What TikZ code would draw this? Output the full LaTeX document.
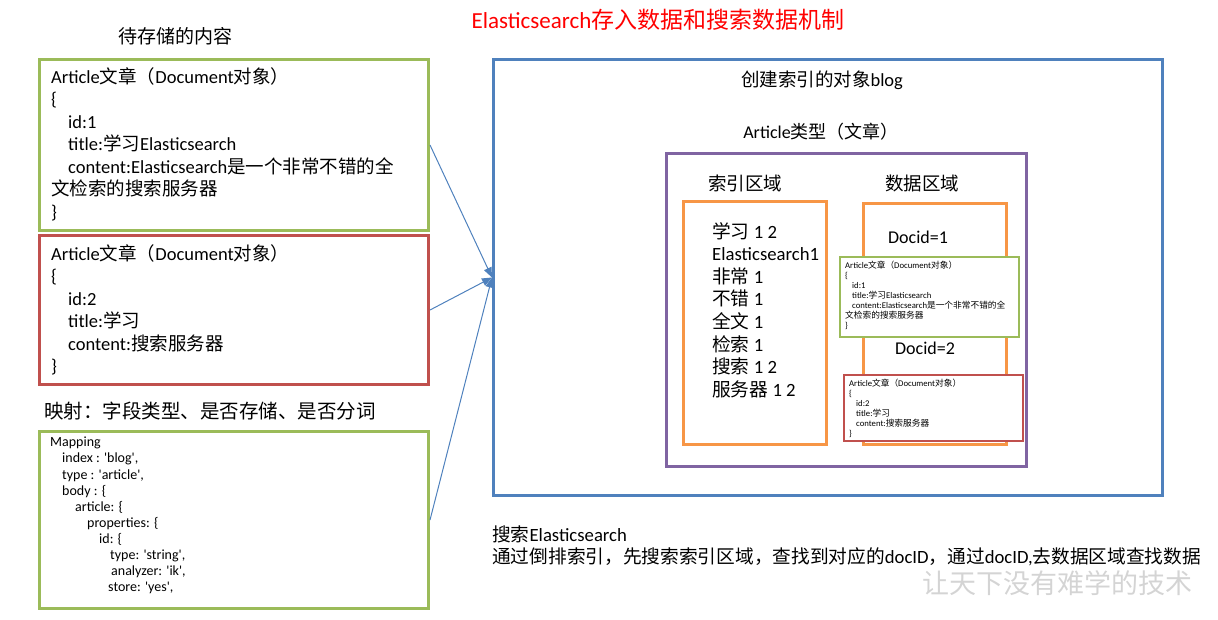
\documentclass[tikz,border=0pt]{standalone}
\usepackage{fontspec}
\setmainfont{Carlito}
\newfontfamily\zhfont{Noto Sans CJK SC}
\usetikzlibrary{arrows.meta}

% Chinese characters switch to the CJK font on their own
\XeTeXinterchartokenstate=1
\newXeTeXintercharclass\zhclass
\newcount\zhchar
\newcommand{\zhrange}[2]{%
	\zhchar=#1\relax
	\loop\XeTeXcharclass\zhchar=\zhclass
	\ifnum\zhchar<#2\advance\zhchar by 1\repeat}
\zhrange{"3000}{"303F}
\zhrange{"4E00}{"9FFF}
\zhrange{"FF00}{"FFEF}
\XeTeXinterchartoks 0 \zhclass = {\zhfont}
\XeTeXinterchartoks 4095 \zhclass = {\zhfont}
\XeTeXinterchartoks \zhclass 0 = {\rmfamily}
\XeTeXinterchartoks \zhclass 4095 = {\rmfamily}

\definecolor{docgreen}{RGB}{155,187,89}
\definecolor{docred}{RGB}{192,80,77}
\definecolor{docblue}{RGB}{79,129,189}
\definecolor{docpurple}{RGB}{128,100,162}
\definecolor{docorange}{RGB}{247,150,70}
\newcommand{\sq}{\textquotesingle}

\begin{document}
\begin{tikzpicture}[x=1pt,y=-1pt,
	docbox/.style={draw=#1, line width=3pt, anchor=north west, inner sep=0pt},
	smallbox/.style={draw=#1, line width=1.5pt, fill=white, anchor=north west, inner sep=0pt},
	doctext/.style={anchor=north west, inner sep=0pt, align=left, font=\fontsize{18.5}{22.5}\selectfont},
	smalltext/.style={anchor=north west, inner sep=0pt, align=left, font=\fontsize{8.7}{10}\selectfont},
	areatext/.style={inner sep=0pt, font=\fontsize{18.5}{22}\selectfont},
	feed/.style={draw=docblue, line width=1pt, -{Triangle[length=10pt,width=8pt]}}
	]
	\useasboundingbox (0,0) rectangle (1218,619);
	
	\node[areatext, text=red, font=\fontsize{23}{26}\selectfont] (title) at (658,20) {Elasticsearch存入数据和搜索数据机制};
	
	% documents waiting to be stored
	\node[areatext, font=\fontsize{19}{22}\selectfont] (todo) at (175,36) {待存储的内容};
	\node[docbox=docgreen, minimum width=389pt, minimum height=171pt] (art1) at (38,58) {};
	\node[doctext] (art1text) at (51,67) {Article文章（Document对象）\\\{\\
		\hspace*{17pt}id:1\\
		\hspace*{17pt}title:学习Elasticsearch\\
		\hspace*{17pt}content:Elasticsearch是一个非常不错的全\\
		文检索的搜索服务器\\\}};
	\node[docbox=docred, minimum width=389pt, minimum height=149pt] (art2) at (38,234) {};
	\node[doctext] (art2text) at (51,244) {Article文章（Document对象）\\\{\\
		\hspace*{17pt}id:2\\
		\hspace*{17pt}title:学习\\
		\hspace*{17pt}content:搜索服务器\\\}};
	
	\node[areatext, anchor=west, font=\fontsize{19.5}{22}\selectfont] (mapping) at (44,411) {映射：字段类型、是否存储、是否分词};
	\node[docbox=docgreen, minimum width=389pt, minimum height=177pt] (map) at (38,430) {};
	\node[doctext, font=\fontsize{14}{16.1}\selectfont] (maptext) at (50,437) {Mapping\\
		\hspace*{12pt}index : \sq blog\sq,\\
		\hspace*{12pt}type : \sq article\sq,\\
		\hspace*{12pt}body : \{\\
		\hspace*{25pt}article: \{\\
		\hspace*{37pt}properties: \{\\
		\hspace*{49pt}id: \{\\
		\hspace*{60pt}type: \sq string\sq,\\
		\hspace*{61pt}analyzer: \sq ik\sq,\\
		\hspace*{58pt}store: \sq yes\sq,};
	
	% the index blog
	\node[docbox=docblue, minimum width=669pt, minimum height=436pt] (blog) at (492,58) {};
	\node[areatext] (blogname) at (822,80) {创建索引的对象blog};
	\node[areatext, font=\fontsize{18}{20}\selectfont] (article) at (821,132) {Article类型（文章）};
	\node[docbox=docpurple, minimum width=360pt, minimum height=313pt] (type) at (665,152) {};
	\node[areatext] (indexarea) at (745,183) {索引区域};
	\node[areatext] (dataarea) at (922,183) {数据区域};
	\node[docbox=docorange, minimum width=143pt, minimum height=243pt] (index) at (682,200) {};
	\node[docbox=docorange, minimum width=143pt, minimum height=241pt] (data) at (862,202) {};
	\node[doctext, font=\fontsize{18.7}{22.6}\selectfont] (terms) at (712,222) {学习 1 2\\Elasticsearch1\\非常 1\\不错 1\\全文 1\\检索 1\\搜索 1 2\\服务器 1 2};
	
	\node[areatext, font=\fontsize{18}{20}\selectfont] (doc1) at (918,237) {Docid=1};
	\node[smallbox=docgreen, minimum width=179pt, minimum height=80pt] (copy1) at (839,256) {};
	\node[smalltext] (copy1text) at (845,261) {Article文章（Document对象）\\\{\\
		\hspace*{7pt}id:1\\
		\hspace*{7pt}title:学习Elasticsearch\\
		\hspace*{7pt}content:Elasticsearch是一个非常不错的全\\
		文检索的搜索服务器\\\}};
	\node[areatext, font=\fontsize{18}{20}\selectfont] (doc2) at (925,348) {Docid=2};
	\node[smallbox=docred, minimum width=179pt, minimum height=66pt] (copy2) at (843,374) {};
	\node[smalltext] (copy2text) at (849,379) {Article文章（Document对象）\\\{\\
		\hspace*{7pt}id:2\\
		\hspace*{7pt}title:学习\\
		\hspace*{7pt}content:搜索服务器\\\}};
	
	% searching
	\node[doctext, font=\fontsize{18.7}{22}\selectfont] (search) at (492,526) {搜索Elasticsearch\\通过倒排索引，先搜索索引区域，查找到对应的docID，通过docID,去数据区域查找数据};
	\node[areatext, text=black!17, font=\fontsize{27}{30}\selectfont] (motto) at (1057,583) {让天下没有难学的技术};
	
	\draw[feed] (art1.east) -- (blog.west);
	\draw[feed] (art2.east) -- (blog.west);
	\draw[feed] (map.east) -- (blog.west);
\end{tikzpicture}
\end{document}
